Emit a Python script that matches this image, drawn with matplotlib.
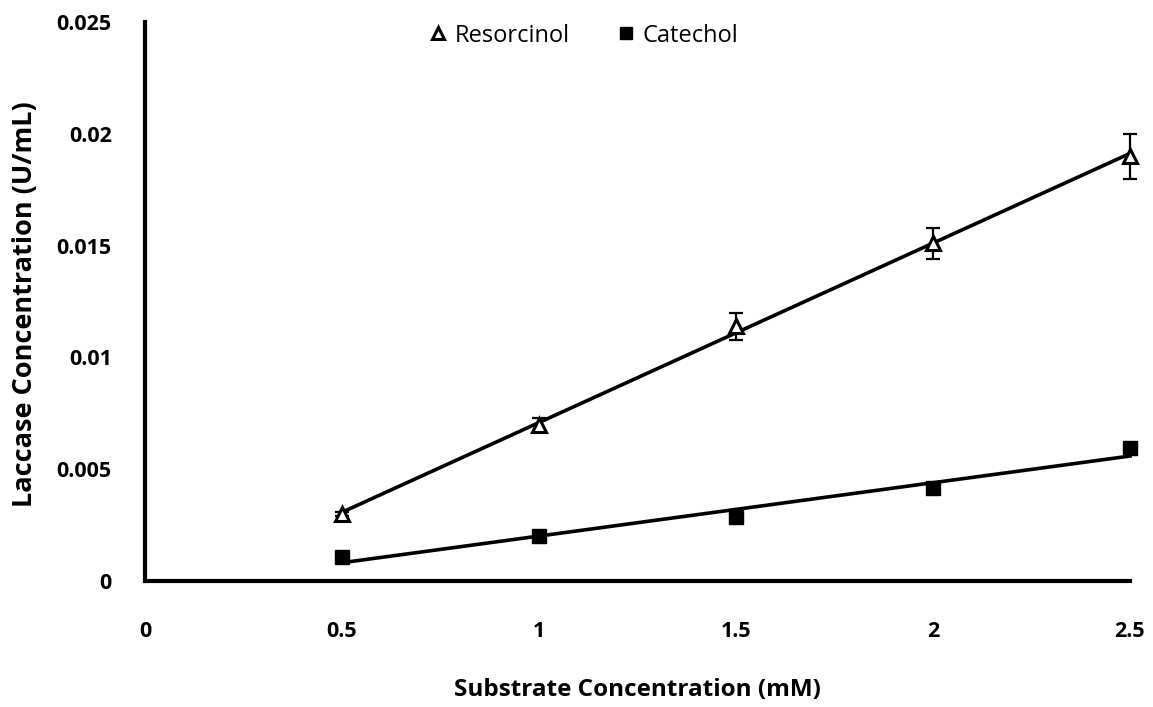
import numpy as np
import matplotlib
matplotlib.use("Agg")
import matplotlib.pyplot as plt

plt.rcParams['font.family'] = ['Open Sans', 'DejaVu Sans']

# Substrate concentration (mM)
substrate = [0.5, 1.0, 1.5, 2.0, 2.5]
# Laccase concentration (U/mL)
resorcinol = [0.0030, 0.0070, 0.0114, 0.0151, 0.0190]
resorcinol_err = [0.0001, 0.0003, 0.0006, 0.0007, 0.0010]
catechol = [0.00107, 0.0020, 0.00286, 0.00416, 0.00595]

x_ticks = [0, 0.5, 1, 1.5, 2, 2.5]
x_tick_labels = ['0', '0.5', '1', '1.5', '2', '2.5']
y_ticks = [0, 0.005, 0.01, 0.015, 0.02, 0.025]
y_tick_labels = ['0', '0.005', '0.01', '0.015', '0.02', '0.025']

fig = plt.figure(figsize=(11.53, 7.07), dpi=100)
ax = fig.add_axes([0.1258, 0.178, 0.8542, 0.791])

x = np.array(substrate)

# linear trendlines
for ys in (resorcinol, catechol):
    m, b = np.polyfit(x, ys, 1)
    xx = np.array([x.min(), x.max()])
    ax.plot(xx, m * xx + b, color='black', lw=2.6, zorder=2, clip_on=False)

eb = ax.errorbar(substrate, resorcinol, yerr=resorcinol_err, fmt='none',
                 ecolor='black', elinewidth=1.6, capsize=5, capthick=1.6, zorder=3)
for art in eb.lines[1] + eb.lines[2]:
    art.set_clip_on(False)
ax.plot(substrate, resorcinol, linestyle='none', marker='^', markersize=10,
        markerfacecolor='white', markeredgecolor='black', markeredgewidth=2.2,
        label='Resorcinol', zorder=4, clip_on=False)
ax.plot(substrate, catechol, linestyle='none', marker='s', markersize=10,
        markerfacecolor='black', markeredgecolor='black',
        label='Catechol', zorder=4, clip_on=False)

ax.set_xlim(0, 2.5)
ax.set_ylim(0, 0.025)
ax.set_xticks(x_ticks)
ax.set_xticklabels(x_tick_labels)
ax.set_yticks(y_ticks)
ax.set_yticklabels(y_tick_labels)
ax.tick_params(axis='both', length=0, labelsize=15.5)
ax.tick_params(axis='x', pad=29)
ax.tick_params(axis='y', pad=24)
for lab in ax.get_xticklabels() + ax.get_yticklabels():
    lab.set_fontweight('bold')

for s in ('top', 'right'):
    ax.spines[s].set_visible(False)
for s in ('left', 'bottom'):
    ax.spines[s].set_linewidth(3)

ax.set_xlabel('Substrate Concentration (mM)', fontsize=17.5, fontweight='bold', va='center')
ax.xaxis.set_label_coords(0.5, -0.195)
ax.set_ylabel('Laccase Concentration (U/mL)', fontsize=19.5, fontweight='bold', va='center')
ax.yaxis.set_label_coords(-0.122, 0.495)

leg = ax.legend(loc='upper center', bbox_to_anchor=(0.445, 1.035), ncol=2, frameon=False,
                fontsize=17, handlelength=0.8, handletextpad=0.3, columnspacing=2.0,
                markerscale=0.9)

fig.savefig('out.png', dpi=100)
